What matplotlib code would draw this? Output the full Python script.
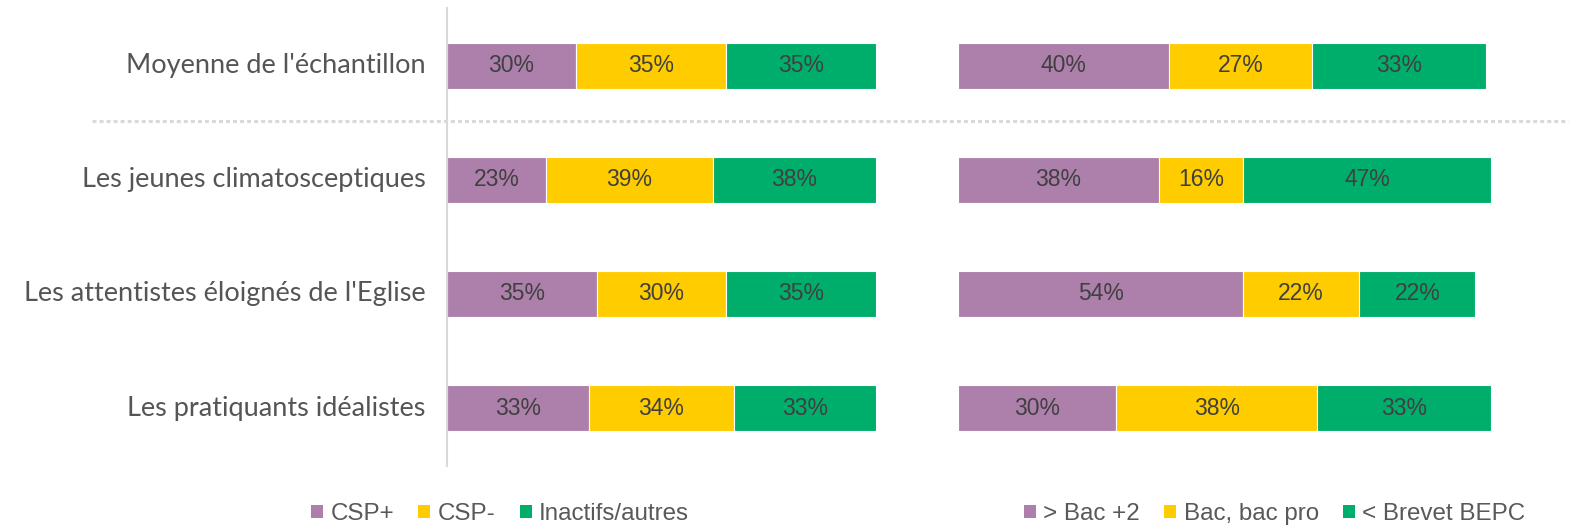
import matplotlib
matplotlib.use("Agg")
import matplotlib.pyplot as plt
from matplotlib.lines import Line2D
from matplotlib.patches import Patch

# groups, top to bottom
groups = ["Moyenne de l'échantillon",
          "Les jeunes climatosceptiques",
          "Les attentistes éloignés de l'Eglise",
          "Les pratiquants idéalistes"]

# socio-professional category (left panel)
csp_labels = ["CSP+", "CSP-", "Inactifs/autres"]
csp_plus = [30, 23, 35, 33]
csp_moins = [35, 39, 30, 34]
inactifs = [35, 38, 35, 33]

# education level (right panel)
dipl_labels = ["> Bac +2", "Bac, bac pro", "< Brevet BEPC"]
bac_plus2 = [40, 38, 54, 30]
bac = [27, 16, 22, 38]
brevet = [33, 47, 22, 33]

colors = ["#ad7fab", "#ffcc00", "#00ae6b"]
W, H = 1571, 526

fig = plt.figure(figsize=(W / 100, H / 100), dpi=100)

y_top = (8 - 66) / 114
y_bot = (466 - 66) / 114
ax_b = 1 - 466 / H
ax_h = 458 / H

ax_l = fig.add_axes([447 / W, ax_b, 429 / W, ax_h])
ax_r = fig.add_axes([958 / W, ax_b, 528 / W, ax_h])


def stacked(ax, series, labels):
    ypos = list(range(len(groups)))
    left = [0] * len(groups)
    handles = []
    for vals, col, lab in zip(series, colors, labels):
        ax.barh(ypos, vals, left=left, height=0.404, color=col,
                edgecolor="white", linewidth=0.8, clip_on=False)
        for y, l, v in zip(ypos, left, vals):
            ax.text(l + v / 2, y, "{}%".format(v), ha="center", va="center",
                    fontsize=16.5, color="#404040", family="Liberation Sans")
        left = [a + b for a, b in zip(left, vals)]
        handles.append(Patch(facecolor=col, label=lab))
    ax.set_xlim(0, 100)
    ax.set_ylim(y_bot, y_top)
    ax.axis("off")
    return handles


h_left = stacked(ax_l, [csp_plus, csp_moins, inactifs], csp_labels)
h_right = stacked(ax_r, [bac_plus2, bac, brevet], dipl_labels)

# category labels
for i, g in enumerate(groups):
    ax_l.text(-5.0, i, g, ha="right", va="center", fontsize=19.5,
              color="#555555", family="Lato")

# vertical axis line at the left of the first panel
fig.add_artist(Line2D([447 / W, 447 / W], [1 - 8 / H, 1 - 466 / H],
                      color="#d9d9d9", linewidth=1.5))

# dotted separator below the sample average
fig.add_artist(Line2D([92 / W, 1568 / W], [1 - 121 / H, 1 - 121 / H],
                      color="#d9d9d9", linewidth=2.2,
                      linestyle=(0, (1.3, 1.0)), dash_capstyle="butt"))

legend_kw = dict(loc="center left", ncol=3, frameon=False,
                 prop={"family": "Liberation Sans", "size": 17.4},
                 handlelength=0.5, handleheight=0.5, handletextpad=0.3,
                 columnspacing=1.0, borderpad=0, borderaxespad=0,
                 labelcolor="#595959")
leg1 = fig.legend(handles=h_left, bbox_to_anchor=(311 / W, 1 - 514 / H),
                  **legend_kw)
leg2 = fig.legend(handles=h_right, bbox_to_anchor=(1024 / W, 1 - 514 / H),
                  **legend_kw)

fig.savefig("out.png", dpi=100, facecolor="white")
